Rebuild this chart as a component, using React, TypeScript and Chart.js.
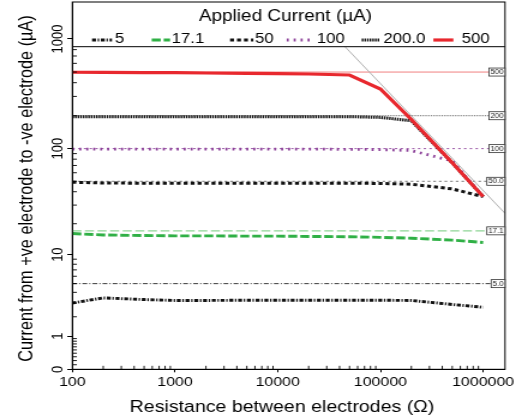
import React, { useEffect, useRef } from 'react';
import { Chart, registerables, Scale } from 'chart.js';

// ---------- data ----------
const RESISTANCE_OHM = [100, 200, 500, 1000, 2000, 5000, 10000, 20000, 50000, 100000, 200000, 500000, 1000000];
const CURRENT_5 = [3.0, 3.45, 3.3, 3.22, 3.22, 3.24, 3.24, 3.24, 3.24, 3.24, 3.22, 2.88, 2.66];
const CURRENT_17 = [16.1, 15.6, 15.4, 15.3, 15.3, 15.2, 15.2, 15.1, 15.0, 14.8, 14.5, 13.9, 13.2];
const CURRENT_50 = [49.0, 48.2, 48.0, 48.0, 47.9, 47.9, 47.9, 47.9, 47.9, 47.8, 47.0, 42.5, 36.0];
const CURRENT_100 = [99, 99, 99, 99, 99, 99, 99, 99, 98.5, 98, 96, 77, 36];
const CURRENT_200 = [196, 196, 196, 196, 196, 196, 196, 196, 196, 193, 180, 74, 36];
const CURRENT_500 = [498, 497, 495, 493, 490, 487, 484, 480, 470, 350, 185, 74, 36];
const SERIES = [CURRENT_5, CURRENT_17, CURRENT_50, CURRENT_100, CURRENT_200, CURRENT_500];
const SERIES_LABELS = ['5', '17.1', '50', '100', '200.0', '500'];
const APPLIED_CURRENT = [5, 17.1, 50, 100, 200, 500];
const APPLIED_TAGS = ['5.0', '17.1', '50.0', '100', '200', '500'];
const LIMIT_RESISTANCE = [45200, 1633000];
const LIMIT_CURRENT = [850, 25.1];
const X_TICKS = [100, 1000, 10000, 100000, 1000000];
const Y_TICKS = [0, 1, 10, 100, 1000];
const X_RANGE = [100, 1633000];
const Y_RANGE = [0, 2167];
const LEGEND_TITLE = 'Applied Current (µA)';
const X_TITLE = 'Resistance between electrodes (Ω)';
const Y_TITLE = 'Current from +ve electrode to -ve electrode (µA)';

// ---------- styles ----------
const FONT = "'Liberation Sans', Arial, Helvetica, sans-serif";
const SERIES_STYLE = [
  { color: '#111111', width: 2.9, dash: [3.3, 1.4, 1.2, 1.4], order: 5 },
  { color: '#2fb045', width: 2.9, dash: [7.5, 2.5], order: 4 },
  { color: '#111111', width: 3, dash: [3.3, 2.5], order: 3 },
  { color: '#8b3f98', width: 2.8, dash: [1.7, 4.1], order: 2 },
  { color: '#111111', width: 3, dash: [1.4, 0.8], order: 1 },
  { color: '#e8282e', width: 3.2, dash: [], order: 0 },
];
const REF_STYLE = [
  { color: '#222222', width: 0.9, dash: [4, 1.7, 1, 1.7] },
  { color: '#8fd596', width: 1.4, dash: [7.5, 3] },
  { color: '#777777', width: 1, dash: [2.2, 2.5] },
  { color: '#8b3f98', width: 0.9, dash: [2, 2.8] },
  { color: '#444444', width: 0.9, dash: [0.9, 0.9] },
  { color: '#f08080', width: 1, dash: [] },
];
// legend layout (canvas px): [line start, line end, text start]
const LEGEND_POS = [
  [76.7, 93.3, 95.8],
  [126.4, 141.7, 143],
  [191.7, 211.1, 212.5],
  [238.9, 261.1, 263.9],
  [301.4, 316.7, 319.4],
  [361.1, 377.8, 384.7],
];
const LEGEND_BOTTOM = 46.7;

// ---------- custom log(y+1) scale ----------
class Log1pScale extends Scale {
  static id = 'log1p';
  static defaults = {};
  _lpStart = 0;
  _lpSpan = 1;
  determineDataLimits() {
    const o: any = this.options;
    this.min = o.min ?? 0;
    this.max = o.max ?? 1000;
  }
  buildTicks() {
    return Y_TICKS.map((v) => ({ value: v }));
  }
  getLabelForValue(v: number) {
    return String(v);
  }
  configure() {
    super.configure();
    this._lpStart = Math.log10(this.min + 1);
    this._lpSpan = Math.log10(this.max + 1) - this._lpStart;
  }
  getPixelForValue(v: number) {
    return this.getPixelForDecimal((Math.log10(v + 1) - this._lpStart) / this._lpSpan);
  }
  getValueForPixel(p: number) {
    return Math.pow(10, this._lpStart + this.getDecimalForPixel(p) * this._lpSpan) - 1;
  }
}

Chart.register(...registerables, Log1pScale as any);

const decorPlugin = {
  id: 'decor',
  afterDatasetsDraw(chart: any) {
    const { ctx, chartArea: a, scales } = chart;
    const xs = scales.x;
    const ys = scales.y;
    ctx.save();
    // frame
    ctx.strokeStyle = '#000';
    ctx.lineWidth = 1;
    ctx.setLineDash([]);
    ctx.strokeRect(a.left, a.top, a.right - a.left, a.bottom - a.top);
    // legend separator
    ctx.beginPath();
    ctx.moveTo(a.left, LEGEND_BOTTOM);
    ctx.lineTo(a.right, LEGEND_BOTTOM);
    ctx.stroke();
    // minor ticks x
    ctx.lineWidth = 0.9;
    ctx.beginPath();
    for (const d of X_TICKS) {
      for (let m = 2; m <= 9; m++) {
        const v = m * d;
        if (v > X_RANGE[1]) continue;
        const px = xs.getPixelForValue(v);
        ctx.moveTo(px, a.bottom);
        ctx.lineTo(px, a.bottom - 3.5);
      }
    }
    // minor ticks y
    const yMinor: number[] = [];
    for (let m = 1; m <= 9; m++) yMinor.push(m / 10);
    for (const d of [1, 10, 100]) for (let m = 2; m <= 9; m++) yMinor.push(m * d);
    for (const v of yMinor) {
      const py = ys.getPixelForValue(v);
      if (py < LEGEND_BOTTOM + 1) continue;
      ctx.moveTo(a.left, py);
      ctx.lineTo(a.left + 3.8, py);
    }
    ctx.stroke();
    // reference tags
    ctx.font = `6.5px ${FONT}`;
    ctx.textAlign = 'center';
    ctx.textBaseline = 'middle';
    APPLIED_TAGS.forEach((tag, i) => {
      const py = ys.getPixelForValue(APPLIED_CURRENT[i]);
      const w = ctx.measureText(tag).width + 2.5;
      ctx.fillStyle = '#fff';
      ctx.fillRect(a.right - w, py - 4, w, 8);
      ctx.strokeStyle = '#333';
      ctx.lineWidth = 0.8;
      ctx.strokeRect(a.right - w, py - 4, w, 8);
      ctx.fillStyle = '#222';
      ctx.fillText(tag, a.right - w / 2, py + 0.3);
    });
    // legend
    ctx.fillStyle = '#000';
    ctx.textAlign = 'center';
    ctx.textBaseline = 'alphabetic';
    ctx.font = `15.8px ${FONT}`;
    ctx.fillText(LEGEND_TITLE, 237.9, 20.7);
    ctx.font = `14px ${FONT}`;
    ctx.textAlign = 'left';
    SERIES_LABELS.forEach((lab, i) => {
      const ds = chart.data.datasets[i];
      const [x0, x1, tx] = LEGEND_POS[i];
      ctx.save();
      ctx.strokeStyle = ds.borderColor;
      ctx.lineWidth = ds.borderWidth;
      ctx.setLineDash(ds.borderDash || []);
      ctx.beginPath();
      ctx.moveTo(x0, 40);
      ctx.lineTo(x1, 40);
      ctx.stroke();
      ctx.restore();
      ctx.fillStyle = '#000';
      ctx.fillText(lab, tx, 43.3);
    });
    // y tick labels (rotated)
    ctx.font = `13px ${FONT}`;
    ctx.textAlign = 'center';
    ctx.textBaseline = 'alphabetic';
    for (const v of Y_TICKS) {
      const py = ys.getPixelForValue(v);
      ctx.save();
      ctx.translate(a.left - 8.75, py);
      ctx.rotate(-Math.PI / 2);
      ctx.fillText(String(v), 0, 0);
      ctx.restore();
    }
    // axis titles
    ctx.font = `16.3px ${FONT}`;
    ctx.fillText(X_TITLE, 235, 411.7);
    ctx.save();
    ctx.translate(26.7, 188.5);
    ctx.rotate(-Math.PI / 2);
    ctx.fillText(Y_TITLE, 0, 0);
    ctx.restore();
    ctx.restore();
  },
};

export default function App() {
  const ref = useRef<HTMLCanvasElement | null>(null);
  useEffect(() => {
    if (!ref.current) return;
    const pts = (ys: number[]) => RESISTANCE_OHM.map((r, i) => ({ x: r, y: ys[i] }));
    const seriesSets = SERIES.map((s, i) => ({
      label: SERIES_LABELS[i],
      data: pts(s),
      borderColor: SERIES_STYLE[i].color,
      borderWidth: SERIES_STYLE[i].width,
      borderDash: SERIES_STYLE[i].dash,
      order: SERIES_STYLE[i].order,
      pointRadius: 0,
      fill: false,
      tension: 0,
    }));
    const refSets = APPLIED_CURRENT.map((c, i) => ({
      label: '',
      data: X_RANGE.map((r) => ({ x: r, y: c })),
      borderColor: REF_STYLE[i].color,
      borderWidth: REF_STYLE[i].width,
      borderDash: REF_STYLE[i].dash,
      order: 20,
      pointRadius: 0,
      fill: false,
    }));
    const limitSet = {
      label: '',
      data: LIMIT_RESISTANCE.map((r, i) => ({ x: r, y: LIMIT_CURRENT[i] })),
      borderColor: '#b0b0b0',
      borderWidth: 1,
      order: 10,
      pointRadius: 0,
      fill: false,
    };
    const chart = new Chart(ref.current, {
      type: 'line',
      data: { datasets: [...seriesSets, ...refSets, limitSet] as any },
      options: {
        animation: false,
        responsive: false,
        maintainAspectRatio: false,
        devicePixelRatio: 1,
        layout: { padding: { top: 2, right: 19.17, left: 0, bottom: 0 } },
        plugins: { legend: { display: false }, tooltip: { enabled: false } },
        scales: {
          x: {
            type: 'logarithmic',
            position: 'bottom',
            min: X_RANGE[0],
            max: X_RANGE[1],
            afterBuildTicks: (s: any) => {
              s.ticks = X_TICKS.map((v) => ({ value: v }));
            },
            afterFit: (s: any) => {
              s.height = 50.7;
            },
            ticks: {
              autoSkip: false,
              maxRotation: 0,
              minRotation: 0,
              padding: 1.7,
              color: '#000',
              font: { family: FONT, size: 13.3 },
              callback: (v: any) => String(v),
            },
            grid: { drawOnChartArea: false, drawTicks: true, tickLength: 3, color: '#000', lineWidth: 1 },
            border: { display: true, color: '#000', width: 1 },
          },
          y: {
            type: 'log1p' as any,
            position: 'left',
            min: Y_RANGE[0],
            max: Y_RANGE[1],
            afterFit: (s: any) => {
              s.width = 60.25;
            },
            ticks: { display: false },
            grid: { drawOnChartArea: false, drawTicks: true, tickLength: 4.2, color: '#000', lineWidth: 1 },
            border: { display: true, color: '#000', width: 1 },
          } as any,
        },
      },
      plugins: [decorPlugin],
    });
    return () => chart.destroy();
  }, []);
  return (
    <div style={{ position: 'fixed', left: 0, top: 0, width: 528, height: 420, background: '#fff' }}>
      <canvas ref={ref} width={440} height={420} style={{ width: '528px', height: '420px', display: 'block' }} />
    </div>
  );
}
